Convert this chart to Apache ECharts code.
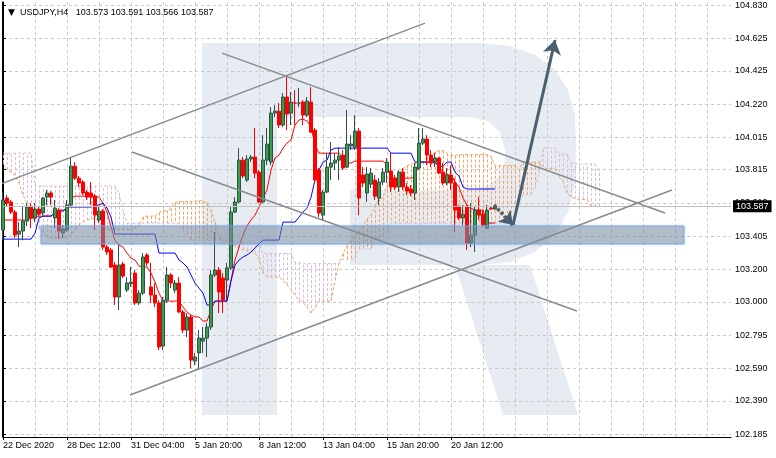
<!DOCTYPE html>
<html><head><meta charset="utf-8">
<script src="https://cdn.jsdelivr.net/npm/echarts@6/dist/echarts.min.js"></script>
<style>html,body{margin:0;padding:0;background:#fff}#c{width:776px;height:458px}</style>
</head><body><div id="c"></div>
<script>
const FONT = "'Liberation Sans', Arial, sans-serif";
const symbolName = 'USDJPY', period = 'H4';
const tickLabels = ['22 Dec 2020','28 Dec 12:00','31 Dec 04:00','5 Jan 20:00','8 Jan 12:00','13 Jan 04:00','15 Jan 20:00','20 Jan 12:00'];
const priceTicks = [104.830,104.625,104.425,104.220,104.015,103.815,103.610,103.405,103.200,103.000,102.795,102.590,102.390,102.185];
const slotCount = 183, barsPerLabel = 16, barsPerGrid = 8;
const yMin = 102.167, yMax = 104.849;

const opens = [
103.443,103.640,103.616,103.554,103.418,103.437,103.498,103.585,103.517,103.572,
103.548,103.646,103.671,103.517,103.566,103.424,103.443,103.597,103.837,103.763,
103.739,103.677,103.671,103.652,103.505,103.560,103.338,103.320,103.227,103.030,
103.233,103.073,103.113,103.178,102.993,103.054,103.289,103.092,103.042,102.993,
102.728,103.011,103.166,103.073,103.116,102.938,102.826,102.907,102.635,102.685,
102.758,102.777,102.845,103.166,103.196,103.147,103.135,103.209,103.554,103.616,
103.874,103.751,103.881,103.893,103.800,103.616,103.874,103.862,104.164,104.176,
104.090,104.263,104.164,104.226,104.226,104.232,104.152,104.232,104.059,103.813,
103.535,103.677,103.831,103.856,103.874,103.905,103.831,103.961,103.954,104.053,
103.782,103.671,103.726,103.751,103.640,103.739,103.800,103.807,103.763,103.708,
103.800,103.708,103.696,103.671,103.825,103.979,104.004,103.905,103.862,103.887,
103.800,103.733,103.782,103.733,103.585,103.517,103.585,103.363,103.412,103.566,
103.541,103.455,103.578,103.573];
const closes = [
103.628,103.609,103.554,103.412,103.437,103.498,103.585,103.517,103.572,103.541,
103.640,103.671,103.646,103.578,103.437,103.449,103.597,103.837,103.763,103.733,
103.671,103.646,103.646,103.535,103.560,103.338,103.307,103.215,103.030,103.227,
103.159,103.116,103.122,102.993,103.054,103.277,103.240,103.042,102.993,102.722,
103.011,103.166,103.116,103.116,102.938,102.826,102.907,102.641,102.660,102.777,
102.777,102.845,103.166,103.196,103.061,103.011,103.209,103.554,103.616,103.874,
103.776,103.881,103.893,103.794,103.616,103.874,103.973,104.164,104.176,104.090,
104.263,104.158,104.232,104.226,104.226,104.152,104.238,104.047,103.751,103.548,
103.677,103.831,103.856,103.874,103.899,103.825,103.973,103.973,104.053,103.640,
103.733,103.788,103.794,103.652,103.739,103.800,103.862,103.708,103.708,103.800,
103.708,103.683,103.671,103.831,103.979,104.004,103.905,103.856,103.887,103.794,
103.733,103.782,103.733,103.566,103.517,103.541,103.363,103.412,103.566,103.535,
103.474,103.566,103.573,103.587];
const lows = [
103.381,103.591,103.541,103.394,103.338,103.381,103.468,103.455,103.492,103.523,
103.535,103.597,103.597,103.455,103.388,103.394,103.431,103.585,103.751,103.708,
103.659,103.628,103.597,103.443,103.486,103.320,103.289,103.209,102.981,102.950,
103.147,103.061,103.092,102.981,102.981,103.042,103.221,102.993,102.968,102.703,
102.703,102.993,103.085,103.054,102.931,102.808,102.783,102.592,102.610,102.580,
102.685,102.660,102.826,103.153,102.931,102.931,103.011,103.196,103.548,103.609,
103.763,103.739,103.862,103.763,103.609,103.609,103.843,103.843,104.139,104.072,
104.078,104.059,104.090,104.090,104.201,104.090,104.139,104.041,103.733,103.523,
103.505,103.671,103.751,103.813,103.751,103.813,103.825,103.936,103.936,103.535,
103.708,103.616,103.702,103.628,103.597,103.720,103.733,103.677,103.690,103.677,
103.690,103.659,103.652,103.628,103.813,103.967,103.843,103.831,103.831,103.788,
103.720,103.720,103.690,103.431,103.505,103.474,103.320,103.338,103.307,103.505,
103.461,103.449,103.566,103.566];
const highs = [
103.677,103.659,103.628,103.566,103.492,103.585,103.609,103.609,103.609,103.585,
103.646,103.690,103.683,103.628,103.578,103.474,103.628,103.893,103.862,103.776,
103.751,103.690,103.739,103.665,103.591,103.572,103.351,103.332,103.246,103.351,
103.246,103.153,103.215,103.196,103.073,103.301,103.301,103.240,103.116,103.011,
103.030,103.215,103.178,103.135,103.153,102.950,102.931,102.919,102.685,102.826,
102.845,102.870,103.196,103.431,103.215,103.178,103.240,103.585,103.646,103.948,
103.893,103.905,103.905,104.072,103.813,104.028,104.072,104.201,104.213,104.226,
104.288,104.392,104.294,104.306,104.318,104.244,104.263,104.324,104.072,103.825,
103.690,103.917,103.985,103.917,103.954,103.936,104.183,104.028,104.152,104.072,
103.831,103.831,103.825,103.782,103.763,103.825,103.887,103.917,103.782,103.813,
103.825,103.733,103.720,103.856,104.072,104.072,104.028,103.936,103.917,103.893,
103.856,103.825,103.843,103.763,103.597,103.597,103.597,103.609,103.585,103.646,
103.566,103.597,103.591,103.591];

const tenkan = [
103.505,103.505,103.505,103.505,103.505,103.505,103.505,103.517,103.517,103.529,
103.529,103.529,103.529,103.548,103.566,103.566,103.566,103.640,103.652,103.652,
103.652,103.652,103.652,103.652,103.646,103.609,103.554,103.461,103.381,103.351,
103.338,103.301,103.270,103.258,103.221,103.215,103.215,103.178,103.122,103.054,
103.005,103.005,103.005,103.005,103.005,102.968,102.938,102.919,102.907,102.907,
102.882,102.882,102.950,103.005,103.005,103.005,103.005,103.135,103.258,103.338,
103.412,103.468,103.505,103.535,103.585,103.640,103.690,103.813,103.887,103.905,
103.948,103.979,103.998,104.090,104.121,104.127,104.115,104.078,103.967,103.917,
103.917,103.917,103.917,103.917,103.917,103.887,103.856,103.856,103.868,103.868,
103.868,103.868,103.868,103.868,103.868,103.868,103.843,103.763,103.763,103.763,
103.763,103.763,103.763,103.770,103.862,103.862,103.862,103.862,103.862,103.831,
103.800,103.782,103.782,103.739,103.708,103.640,103.597,103.578,103.566,103.566,
103.566,103.486,103.486,103.486];
const kijun = [
103.387,103.387,103.387,103.387,103.387,103.387,103.387,103.387,103.424,103.517,
103.529,103.529,103.529,103.554,103.560,103.560,103.585,103.585,103.585,103.585,
103.585,103.585,103.585,103.597,103.597,103.609,103.578,103.523,103.418,103.418,
103.418,103.418,103.418,103.418,103.418,103.418,103.418,103.418,103.418,103.301,
103.301,103.301,103.301,103.301,103.258,103.240,103.215,103.166,103.116,103.085,
103.054,102.981,102.981,103.005,103.005,103.005,103.005,103.128,103.227,103.258,
103.277,103.289,103.307,103.332,103.357,103.381,103.381,103.381,103.381,103.381,
103.492,103.492,103.492,103.492,103.523,103.554,103.578,103.646,103.751,103.813,
103.862,103.874,103.936,103.948,103.948,103.948,103.948,103.948,103.948,103.948,
103.948,103.948,103.948,103.948,103.948,103.948,103.948,103.917,103.917,103.917,
103.917,103.917,103.917,103.862,103.862,103.862,103.862,103.862,103.862,103.837,
103.837,103.862,103.862,103.800,103.776,103.708,103.696,103.696,103.696,103.696,
103.696,103.696,103.696,103.696];
const senkouA = [
103.856,103.813,103.800,103.782,103.733,103.659,103.609,103.548,103.492,103.455,
103.431,103.400,103.394,103.394,103.394,103.394,103.394,103.418,103.443,103.474,
103.492,103.505,103.511,103.517,103.492,103.468,103.446,103.446,103.446,103.446,
103.446,103.446,103.446,103.452,103.471,103.523,103.529,103.529,103.529,103.551,
103.563,103.563,103.575,103.612,103.619,103.619,103.619,103.619,103.619,103.625,
103.622,103.609,103.566,103.492,103.400,103.384,103.378,103.360,103.344,103.338,
103.320,103.317,103.317,103.298,103.270,103.178,103.153,103.153,103.153,103.153,
103.132,103.104,103.076,103.042,103.011,102.996,102.968,102.931,102.965,103.005,
103.005,103.005,103.005,103.132,103.242,103.298,103.344,103.378,103.406,103.434,
103.471,103.511,103.535,103.597,103.634,103.643,103.720,103.736,103.745,103.791,
103.822,103.840,103.847,103.862,103.859,103.865,103.890,103.896,103.927,103.933,
103.933,103.917,103.902,103.902,103.908,103.908,103.908,103.908,103.908,103.908,
103.908,103.908,103.896,103.840,103.840,103.840,103.840,103.840,103.840,103.816,
103.862,103.862,103.862,103.862,103.862,103.834,103.819,103.822,103.822,103.770,
103.742,103.674,103.646,103.637,103.631,103.631,103.631,103.591,103.591,103.591];
const senkouB = [
103.917,103.917,103.917,103.917,103.917,103.917,103.917,103.917,103.714,103.714,
103.714,103.714,103.714,103.714,103.714,103.714,103.714,103.714,103.714,103.714,
103.714,103.714,103.714,103.714,103.714,103.714,103.714,103.714,103.714,103.671,
103.566,103.486,103.486,103.486,103.486,103.486,103.486,103.486,103.486,103.486,
103.486,103.486,103.486,103.486,103.486,103.443,103.406,103.381,103.381,103.381,
103.381,103.381,103.381,103.381,103.381,103.369,103.369,103.369,103.369,103.369,
103.369,103.369,103.369,103.369,103.369,103.298,103.298,103.298,103.298,103.298,
103.298,103.298,103.298,103.242,103.242,103.236,103.236,103.236,103.236,103.236,
103.236,103.236,103.236,103.236,103.236,103.264,103.264,103.264,103.264,103.326,
103.326,103.326,103.326,103.390,103.397,103.403,103.434,103.486,103.486,103.486,
103.486,103.486,103.486,103.486,103.486,103.486,103.486,103.486,103.486,103.486,
103.486,103.486,103.486,103.486,103.486,103.486,103.486,103.486,103.486,103.486,
103.486,103.486,103.486,103.486,103.486,103.486,103.486,103.526,103.526,103.609,
103.662,103.662,103.662,103.702,103.794,103.948,103.948,103.948,103.948,103.911,
103.911,103.911,103.856,103.856,103.850,103.850,103.850,103.850,103.850,103.816];

// analyst drawings: [barFrom, priceFrom, barTo, priceTo]
const trendLines = [
  [-0.75,103.726,105.5,104.719],
  [54.75,104.534,165.5,103.548],
  [32.25,103.924,143.5,102.944],
  [31.75,102.426,167.25,103.690]];
const zone = [9.5,103.468,170.25,103.357];
const arrows = [[122.75,103.597,127.5,103.474],[127.5,103.474,138,104.614]];

const last = opens.length - 1;
const bidPrice = closes[last];
const categories = Array.from({length: slotCount}, (_, i) => i);
const candleData = opens.map((o, i) => [o, closes[i], lows[i], highs[i]]);
const cloudData = senkouA.map((a, i) => [i, a, senkouB[i]]);

const chart = echarts.init(document.getElementById('c'), null, {renderer: 'canvas'});
const WM = '#e7ecf3';
chart.setOption({
  animation: false,
  backgroundColor: '#fff',
  textStyle: {fontFamily: FONT},
  title: {
    left: 3, top: 3,
    text: '{t|▼}  ' + symbolName + ',' + period + '   ' + [opens[last], highs[last], lows[last], closes[last]].map(v => v.toFixed(3)).join(' '),
    textStyle: {fontSize: 9, fontWeight: 'normal', color: '#000', fontFamily: FONT,
      rich: {t: {fontSize: 9, color: '#000', fontFamily: 'DejaVu Sans'}}}
  },
  graphic: [
    {type: 'rect', z: -10, silent: true, shape: {x: 202, y: 43, width: 75, height: 372}, style: {fill: WM}},
    {type: 'polygon', z: -10, silent: true, shape: {points: [[277,43],[480,43],[510,46],[535,55],[555,70],[568,90],[575,115],[576,150],[575,185],[568,212],[555,235],[535,252],[510,262],[480,265],[350,265],[350,190],[470,190],[488,186],[500,176],[505,160],[505,150],[500,132],[488,121],[470,117],[277,117]]}, style: {fill: WM}},
    {type: 'polygon', z: -10, silent: true, shape: {points: [[455,265],[530,265],[578,415],[503,415]]}, style: {fill: WM}}
  ],
  grid: {left: 3, right: 45, top: 2, bottom: 21, containLabel: false},
  xAxis: [{
    type: 'category', data: categories, boundaryGap: false,
    axisLine: {lineStyle: {color: '#000', width: 1}},
    axisTick: {show: true, length: 3, lineStyle: {color: '#000'},
      interval: (i) => i % barsPerLabel === 0 && i / barsPerLabel < tickLabels.length},
    axisLabel: {show: true, align: 'left', margin: 4, fontSize: 9, color: '#000', fontFamily: FONT,
      interval: (i) => i % barsPerLabel === 0 && i / barsPerLabel < tickLabels.length,
      formatter: (v, i) => tickLabels[i / barsPerLabel] || ''},
    splitLine: {show: true, interval: (i) => i % barsPerGrid === 0,
      lineStyle: {color: '#c8c8c8', type: [3, 3], width: 1}}
  }, {
    type: 'value', min: 0, max: slotCount - 1, show: false
  }],
  yAxis: [{
    type: 'value', position: 'right', min: yMin, max: yMax,
    axisLine: {show: true, lineStyle: {color: '#000'}},
    axisTick: {show: true, length: 3, inside: false, lineStyle: {color: '#000'}, customValues: priceTicks},
    axisLabel: {show: true, margin: 4, fontSize: 9, color: '#000', fontFamily: FONT, customValues: priceTicks,
      formatter: (v) => v.toFixed(3)},
    splitLine: {show: true, lineStyle: {color: '#c8c8c8', type: [3, 3], width: 1}}
  }, {
    type: 'value', position: 'left', offset: 1, min: yMin, max: yMax,
    axisLine: {show: true, lineStyle: {color: '#000'}},
    axisTick: {show: false}, axisLabel: {show: false}, splitLine: {show: false}
  }],
  series: [
    {
      name: 'kumo', type: 'custom', xAxisIndex: 0, yAxisIndex: 0, z: 1, silent: true,
      data: cloudData,
      renderItem: (params, api) => {
        const a = api.value(1), b = api.value(2);
        const pa = api.coord([api.value(0), a]);
        const pb = api.coord([api.value(0), b]);
        const x = Math.round(pa[0]) + 0.5;
        return {type: 'line', shape: {x1: x, y1: pa[1], x2: x, y2: pb[1]},
          style: {stroke: a >= b ? '#f4a460' : '#d8bfd8', lineWidth: 1, lineDash: [3, 2]}};
      }
    },
    {name: 'Senkou Span A', type: 'line', data: senkouA, showSymbol: false, z: 1, silent: true,
      lineStyle: {color: '#f4a460', width: 1, type: [3, 2]}},
    {name: 'Senkou Span B', type: 'line', data: senkouB, showSymbol: false, z: 1, silent: true,
      lineStyle: {color: '#d8bfd8', width: 1, type: [3, 2]}},
    {name: 'Tenkan-sen', type: 'line', data: tenkan, showSymbol: false, z: 2, silent: true,
      lineStyle: {color: '#ff0000', width: 1}},
    {name: 'Kijun-sen', type: 'line', data: kijun, showSymbol: false, z: 2, silent: true,
      lineStyle: {color: '#0000ff', width: 1}},
    {
      name: symbolName, type: 'candlestick', data: candleData, barWidth: 3, z: 3,
      itemStyle: {color: '#3a9e45', color0: '#ff0000', borderColor: '#2f4f4f', borderColor0: '#ff0000', borderWidth: 1},
      markLine: {
        silent: true, symbol: ['none', 'none'], animation: false,
        data: [{yAxis: bidPrice}],
        lineStyle: {color: '#c0c0c0', width: 1, type: 'solid'},
        label: {show: true, position: 'end', distance: 2, formatter: bidPrice.toFixed(3),
          color: '#fff', backgroundColor: '#000', padding: [2, 3, 1, 3], fontSize: 9, fontFamily: FONT}
      }
    },
    {
      name: 'zone', type: 'custom', xAxisIndex: 1, yAxisIndex: 0, z: 4, silent: true,
      data: [zone],
      renderItem: (params, api) => {
        const p1 = api.coord([api.value(0), api.value(1)]);
        const p2 = api.coord([api.value(2), api.value(3)]);
        return {type: 'rect', shape: {x: p1[0], y: p1[1], width: p2[0] - p1[0], height: p2[1] - p1[1]},
          style: {fill: 'rgba(125,138,152,0.45)', stroke: 'rgba(110,165,235,0.9)', lineWidth: 1,
            shadowBlur: 3, shadowColor: 'rgba(110,150,200,0.5)'}};
      }
    },
    {
      name: 'trend', type: 'lines', coordinateSystem: 'cartesian2d', xAxisIndex: 1, yAxisIndex: 0, z: 5,
      silent: true, clip: true,
      data: trendLines.map(t => ({coords: [[t[0], t[1]], [t[2], t[3]]]})),
      lineStyle: {color: '#868b90', width: 1.4, opacity: 1}
    },
    {
      name: 'arrow-short', type: 'lines', coordinateSystem: 'cartesian2d', xAxisIndex: 1, yAxisIndex: 0, z: 6,
      silent: true, symbol: ['none', 'arrow'], symbolSize: 13,
      data: [{coords: [[arrows[0][0], arrows[0][1]], [arrows[0][2], arrows[0][3]]]}],
      lineStyle: {color: '#4c5f6e', width: 3.5, type: [3, 2], opacity: 1}
    },
    {
      name: 'arrow-long', type: 'lines', coordinateSystem: 'cartesian2d', xAxisIndex: 1, yAxisIndex: 0, z: 6,
      silent: true, symbol: ['none', 'arrow'], symbolSize: 14,
      data: [{coords: [[arrows[1][0], arrows[1][1]], [arrows[1][2], arrows[1][3]]]}],
      lineStyle: {color: '#4c5f6e', width: 3, opacity: 1}
    }
  ]
});
</script></body></html>
